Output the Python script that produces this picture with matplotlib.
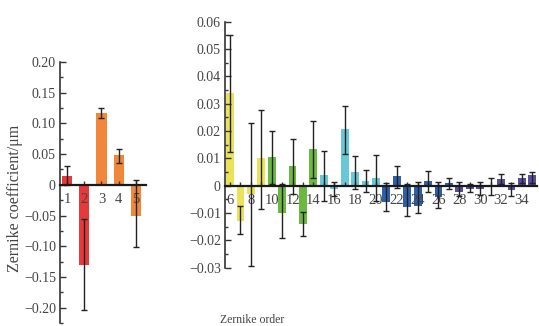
#!/usr/bin/env python
# -*- coding: utf-8 -*-

import numpy as np
import matplotlib
matplotlib.use('Agg')
import matplotlib.pyplot as plt
from matplotlib.ticker import MultipleLocator, FuncFormatter

plt.rcParams['font.family'] = ['Liberation Serif', 'DejaVu Serif']
plt.rcParams['font.size'] = 10

# --- data: low orders (1-5)
order_lo = [1, 2, 3, 4, 5]
coef_lo = [0.015, -0.131, 0.117, 0.048, -0.050]
lo_lo   = [0.000, -0.204, 0.108, 0.036, -0.102]
hi_lo   = [0.031, -0.056, 0.125, 0.059, 0.008]
col_lo  = ['#e8393a', '#e8393a', '#f0873b', '#f0873b', '#f0873b']

# --- data: high orders (6-35)
order_hi = list(range(6, 36))
coef_hi = [0.0338, -0.0128, -0.0032, 0.0100, 0.0105, -0.0099, 0.0072, -0.0140,
           0.0134, 0.0039, -0.0013, 0.0207, 0.0049, 0.0017, 0.0028, -0.0061,
           0.0035, -0.0077, -0.0073, 0.0018, -0.0040, 0.0011, -0.0022, -0.0012,
           -0.0012, -0.0003, 0.0023, -0.0016, 0.0028, 0.0038]
lo_hi = [0.0122, -0.0177, -0.0294, -0.0085, 0.0006, -0.0193, -0.0032, -0.0183,
         0.0029, -0.0055, -0.0038, 0.0116, -0.0012, -0.0024, -0.0055, -0.0093,
         -0.0010, -0.0111, -0.0099, -0.0022, -0.0080, -0.0012, -0.0037, -0.0022,
         -0.0034, -0.0034, 0.0006, -0.0037, 0.0009, 0.0009]
hi_hi = [0.0551, -0.0074, 0.0230, 0.0277, 0.0201, 0.0006, 0.0172, -0.0098,
         0.0237, 0.0126, 0.0014, 0.0291, 0.0110, 0.0059, 0.0112, 0.0009,
         0.0073, 0.0005, 0.0015, 0.0054, 0.0015, 0.0028, 0.0015, 0.0006,
         0.0015, 0.0028, 0.0041, 0.0009, 0.0041, 0.0051]
col_hi = (['#ebe357'] * 4 + ['#6cb942'] * 5 + ['#6ac8d6'] * 6 +
          ['#2f5fa9'] * 7 + ['#5c4c9c'] * 8)

txtc = '#444444'


def fmt(v, pos):
    if abs(v) < 1e-9:
        return '0'
    s = '%.2f' % v
    return s.replace('-', '\u2212')


def style(ax):
    for s in ['top', 'right']:
        ax.spines[s].set_visible(False)
    ax.spines['bottom'].set_position(('data', 0))
    ax.spines['bottom'].set_linewidth(1.6)
    ax.spines['left'].set_linewidth(1.2)
    ax.spines['bottom'].set_color('#1a1a1a')
    ax.spines['left'].set_color('#333333')
    ax.yaxis.set_major_formatter(FuncFormatter(fmt))
    ax.tick_params(axis='y', which='major', direction='in', length=4, width=1,
                   colors='#333333', labelcolor=txtc, pad=3, labelsize=10)
    ax.tick_params(axis='y', which='minor', direction='in', length=2, width=1,
                   colors='#333333')
    ax.tick_params(axis='x', which='both', direction='in', length=3, width=1,
                   colors='#333333', labelcolor=txtc, pad=6, labelsize=10.5)


fig = plt.figure(figsize=(5.39, 3.26), dpi=100)
W, H = 539., 326.

ax1 = fig.add_axes([60 / W, 1 - 323 / H, (146 - 60) / W, (323 - 62) / H])
x = np.array(order_lo)
v = np.array(coef_lo)
ax1.bar(x, v, width=0.6, color=col_lo, zorder=1)
ax1.errorbar(x, v, yerr=[v - np.array(lo_lo), np.array(hi_lo) - v], fmt='none',
             ecolor='#222222', elinewidth=1, capsize=2, capthick=1, zorder=2)
ax1.set_xlim(0.594, 5.58)
ax1.set_ylim(-0.225, 0.2)
ax1.yaxis.set_major_locator(MultipleLocator(0.05))
ax1.yaxis.set_minor_locator(MultipleLocator(0.025))
ax1.set_xticks(order_lo)
style(ax1)

ax2 = fig.add_axes([225 / W, 1 - 267.7 / H, (537 - 225) / W, (267.7 - 21.7) / H])
x = np.array(order_hi)
v = np.array(coef_hi)
ax2.bar(x, v, width=0.75, color=col_hi, zorder=1)
ax2.errorbar(x, v, yerr=[v - np.array(lo_hi), np.array(hi_hi) - v], fmt='none',
             ecolor='#222222', elinewidth=1, capsize=2, capthick=1, zorder=2)
ax2.set_xlim(5.52, 35.45)
ax2.set_ylim(-0.03, 0.06)
ax2.yaxis.set_major_locator(MultipleLocator(0.01))
ax2.yaxis.set_minor_locator(MultipleLocator(0.005))
ax2.set_xticks(order_hi[::2])
ax2.set_xticks(order_hi[1::2], minor=True)
style(ax2)

fig.text(15 / W, 1 - 198 / H, 'Zernike coefficient/\u03bcm', rotation=90,
         ha='center', va='center', color=txtc, fontsize=11.5)
fig.text(252 / W, 1 - 320 / H, 'Zernike order', ha='center', va='center',
         color=txtc, fontsize=8.5)

fig.savefig('out.png', dpi=100)
